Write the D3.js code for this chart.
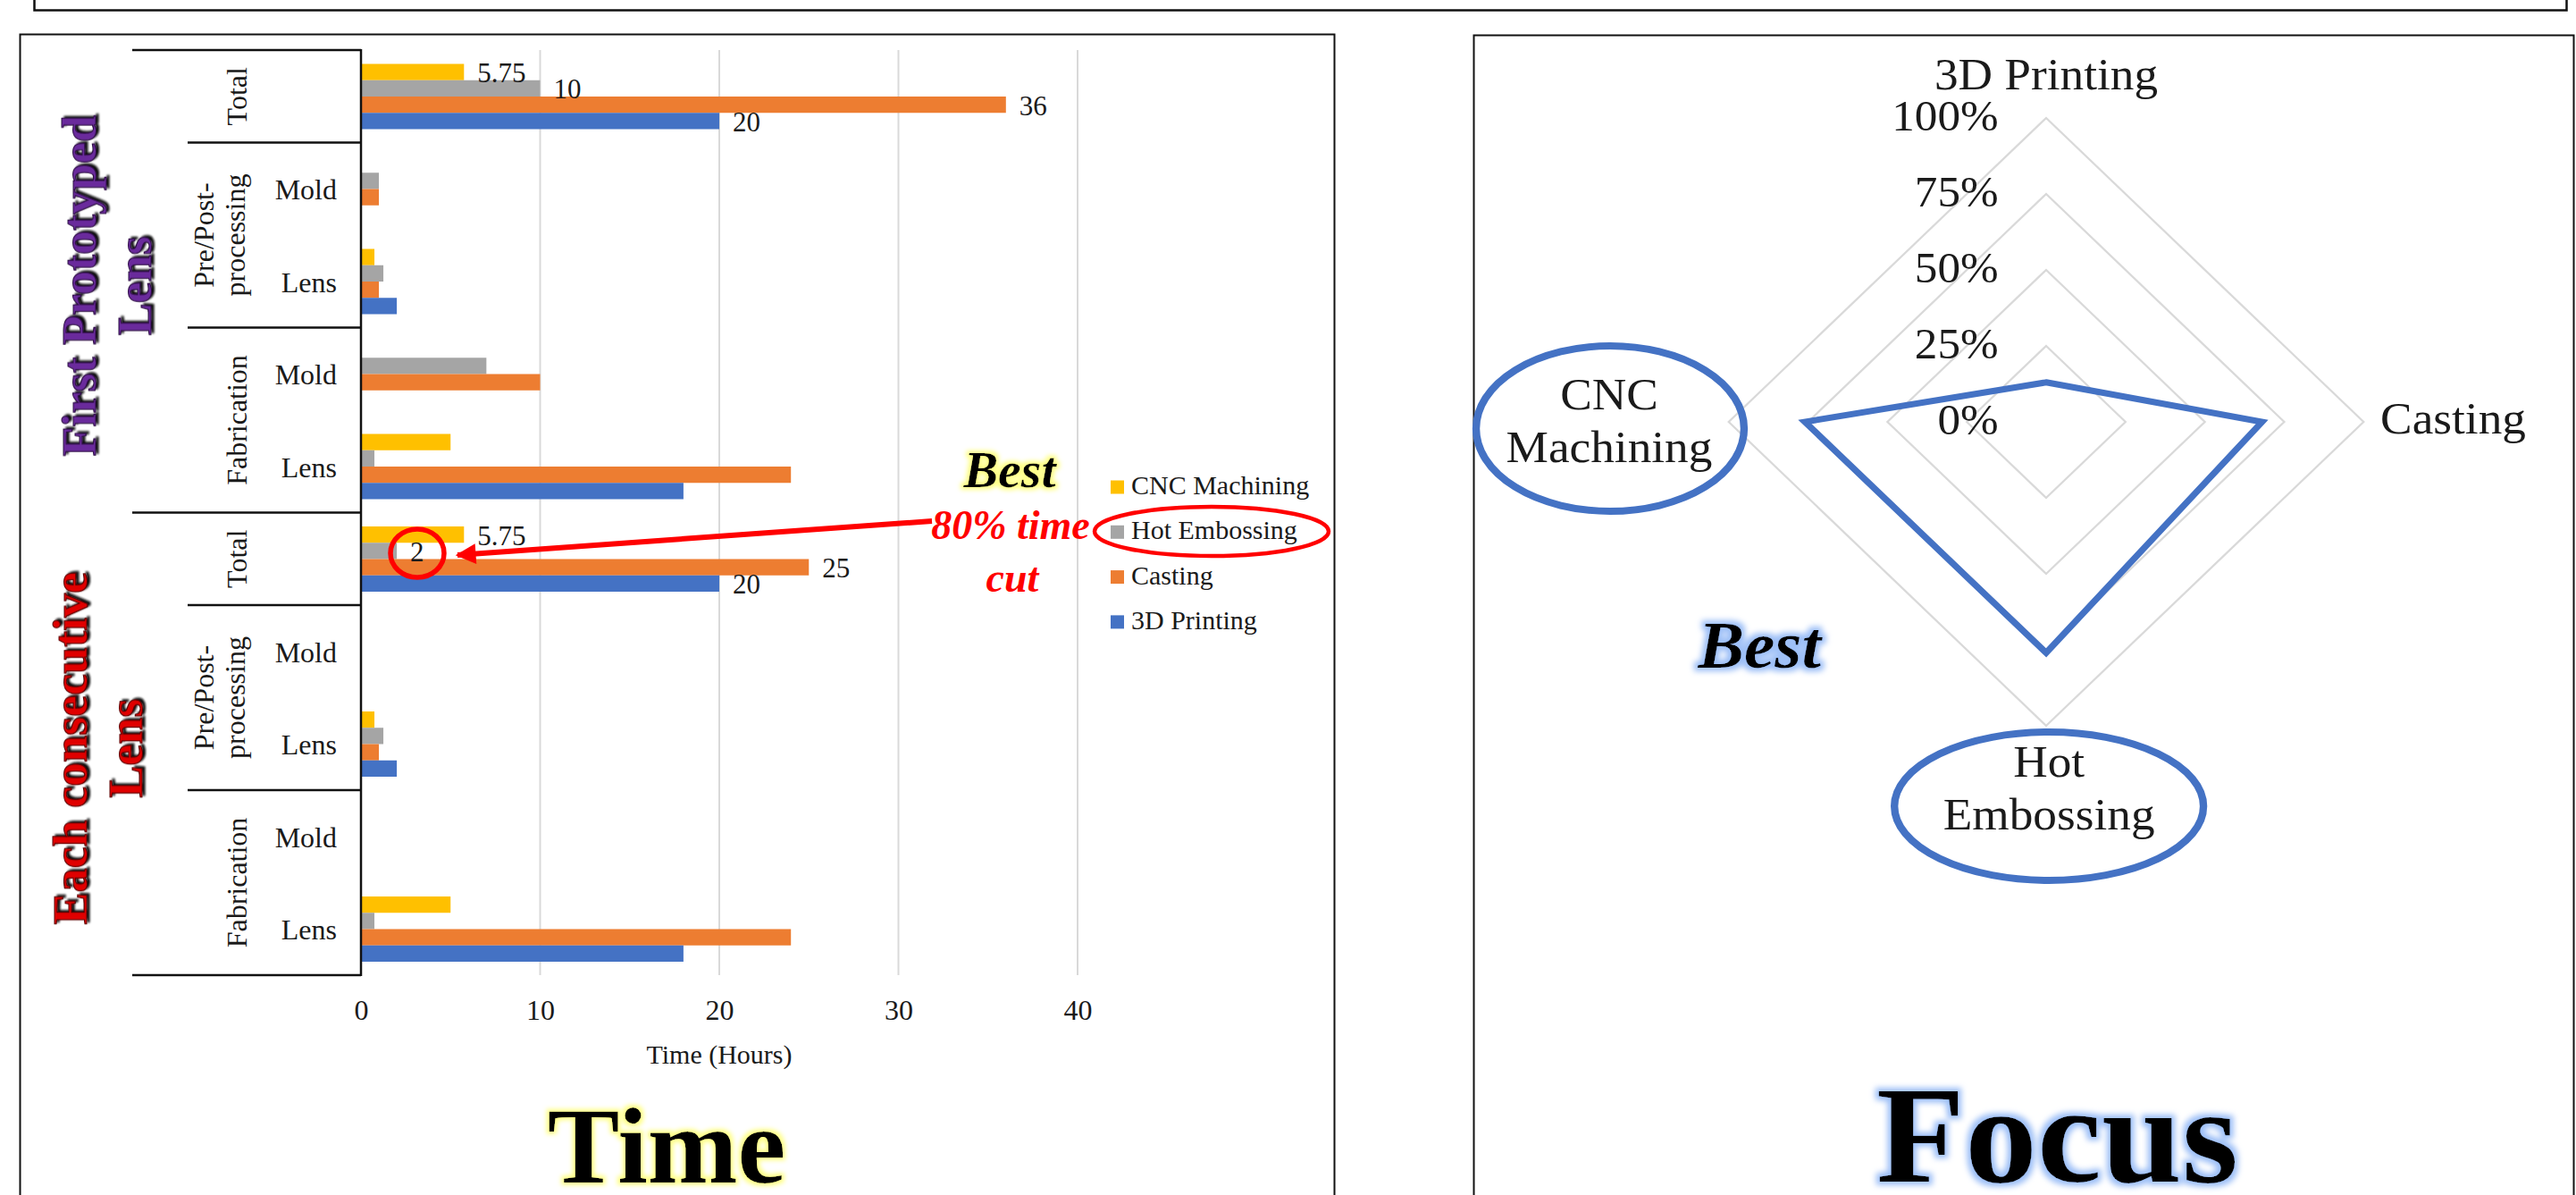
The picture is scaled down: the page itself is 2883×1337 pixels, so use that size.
<!DOCTYPE html>
<html>
<head>
<meta charset="utf-8">
<script src="https://cdnjs.cloudflare.com/ajax/libs/d3/7.8.5/d3.min.js"></script>
<style>
  html, body { margin: 0; padding: 0; background: #fff; }
  svg { display: block; }
  text { font-family: "Liberation Serif", "Times New Roman", serif; }
</style>
</head>
<body>
<svg id="chart" width="2883" height="1337"></svg>
<script>
// ---------------- DATA ----------------
// categories listed from top to bottom of the bar chart
const categories  = ["Total", "Mold", "Lens", "Mold", "Lens", "Total", "Mold", "Lens", "Mold", "Lens"];
const stageGroups = ["Total", "Pre/Post-processing", "Pre/Post-processing", "Fabrication", "Fabrication",
                     "Total", "Pre/Post-processing", "Pre/Post-processing", "Fabrication", "Fabrication"];
const lensGroups  = ["First Prototyped Lens", "First Prototyped Lens", "First Prototyped Lens", "First Prototyped Lens", "First Prototyped Lens",
                     "Each consecutive Lens", "Each consecutive Lens", "Each consecutive Lens", "Each consecutive Lens", "Each consecutive Lens"];

const seriesNames   = ["CNC Machining", "Hot Embossing", "Casting", "3D Printing"];
const cncMachining  = [5.75, 0, 0.75, 0, 5, 5.75, 0, 0.75, 0, 5];
const hotEmbossing  = [10, 1, 1.25, 7, 0.75, 2, 0, 1.25, 0, 0.75];
const casting       = [36, 1, 1, 10, 24, 25, 0, 1, 0, 24];
const printing3D    = [20, 0, 2, 0, 18, 20, 0, 2, 0, 18];
const xTicks        = [0, 10, 20, 30, 40];
const xAxisTitle    = "Time (Hours)";

const radarAxes     = ["3D Printing", "Casting", "Hot Embossing", "CNC Machining"];
const radarValues   = [0.13, 0.68, 0.76, 0.76];
const radarTicks    = [0, 0.25, 0.5, 0.75, 1];

// ---------------- STYLE ----------------
const seriesColors = { "CNC Machining": "#ffc000", "Hot Embossing": "#a5a5a5", "Casting": "#ed7d31", "3D Printing": "#4472c4" };
const seriesValues = { "CNC Machining": cncMachining, "Hot Embossing": hotEmbossing, "Casting": casting, "3D Printing": printing3D };
const lensColors   = { "First Prototyped Lens": "#6a2c9c", "Each consecutive Lens": "#e00000" };
const lensStroke   = { "First Prototyped Lens": "#2e0f45", "Each consecutive Lens": "#5a0000" };
const lensBaseX    = { "First Prototyped Lens": 107, "Each consecutive Lens": 97 };

const svg = d3.select("#chart");
const defs = svg.append("defs");

function glow(id, color, r, sd) {
  const f = defs.append("filter").attr("id", id)
    .attr("x", "-30%").attr("y", "-40%").attr("width", "160%").attr("height", "180%");
  f.append("feMorphology").attr("in", "SourceAlpha").attr("operator", "dilate").attr("radius", r).attr("result", "d");
  f.append("feGaussianBlur").attr("in", "d").attr("stdDeviation", sd).attr("result", "b");
  f.append("feFlood").attr("flood-color", color).attr("result", "c");
  f.append("feComposite").attr("in", "c").attr("in2", "b").attr("operator", "in").attr("result", "g");
  const m = f.append("feMerge");
  m.append("feMergeNode").attr("in", "g");
  m.append("feMergeNode").attr("in", "SourceGraphic");
}
glow("glowYellow", "#ffff8a", 3, 2.5);
glow("glowBlue", "#9ec0f7", 4, 3);
const sh = defs.append("filter").attr("id", "shadow").attr("x", "-20%").attr("y", "-30%").attr("width", "140%").attr("height", "160%");
sh.append("feDropShadow").attr("dx", 2).attr("dy", 3).attr("stdDeviation", 1.3).attr("flood-color", "#111").attr("flood-opacity", 1);

defs.append("marker").attr("id", "arrowHead")
  .attr("viewBox", "0 0 10 10").attr("refX", 9).attr("refY", 5)
  .attr("markerWidth", 4.2).attr("markerHeight", 3.8).attr("orient", "auto")
  .append("path").attr("d", "M0,0 L10,5 L0,10 z").attr("fill", "#ff0000");

// ---------------- FRAMES ----------------
svg.append("rect").attr("x", 38.5).attr("y", -20).attr("width", 2834).attr("height", 31.5)
  .attr("fill", "none").attr("stroke", "#111").attr("stroke-width", 2.5);
svg.append("rect").attr("x", 22.5).attr("y", 38.5).attr("width", 1471).attr("height", 1340)
  .attr("fill", "none").attr("stroke", "#111").attr("stroke-width", 2);
svg.append("rect").attr("x", 1649.5).attr("y", 39.5).attr("width", 1231).attr("height", 1340)
  .attr("fill", "none").attr("stroke", "#111").attr("stroke-width", 2);

// ---------------- BAR CHART ----------------
const x = d3.scaleLinear().domain([0, 40]).range([404, 1206]);
const y = d3.scaleBand().domain(d3.range(categories.length)).range([56, 1091]);
const ys = d3.scaleBand().domain(seriesNames).range([15.5, 88.5]);

const bar = svg.append("g");
// gridlines
bar.append("g").selectAll("line").data(xTicks.filter(t => t > 0)).join("line")
  .attr("x1", d => x(d)).attr("x2", d => x(d)).attr("y1", 56).attr("y2", 1091)
  .attr("stroke", "#d9d9d9").attr("stroke-width", 2);

// x axis tick labels via d3 axis
const xAxis = d3.axisBottom(x).tickValues(xTicks).tickSize(0).tickPadding(0);
const xg = bar.append("g").attr("transform", "translate(0,1118)").call(xAxis);
xg.select(".domain").remove();
xg.selectAll("text").attr("font-size", 32).attr("fill", "#1a1a1a")
  .attr("font-family", "Liberation Serif").attr("dy", "0.71em");

bar.append("text").attr("x", 805).attr("y", 1190).attr("text-anchor", "middle")
  .attr("font-size", 30).attr("fill", "#1a1a1a").text(xAxisTitle);

// bars
seriesNames.forEach(s => {
  bar.append("g").selectAll("rect").data(seriesValues[s]).join("rect")
    .attr("x", x(0))
    .attr("y", (d, i) => y(i) + ys(s))
    .attr("width", d => x(d) - x(0))
    .attr("height", ys.bandwidth())
    .attr("fill", seriesColors[s]);
});

// value labels on totals
seriesNames.forEach(s => {
  const vals = seriesValues[s];
  bar.append("g").selectAll("text")
    .data(vals.map((v, i) => ({ v, i })).filter(d => categories[d.i] === "Total"))
    .join("text")
    .attr("x", d => x(d.v) + 15)
    .attr("y", d => y(d.i) + ys(s) + ys.bandwidth() / 2 + 1)
    .attr("dominant-baseline", "central")
    .attr("font-size", 31).attr("fill", "#1a1a1a")
    .text(d => String(d.v));
});

// category axis line
bar.append("line").attr("x1", 404).attr("x2", 404).attr("y1", 55).attr("y2", 1092)
  .attr("stroke", "#111").attr("stroke-width", 2.5);

// group boundary lines
const boundaries = [];
for (let i = 0; i <= categories.length; i++) {
  if (i === 0 || i === categories.length || lensGroups[i] !== lensGroups[i - 1]) boundaries.push({ i, x1: 148 });
  else if (stageGroups[i] !== stageGroups[i - 1]) boundaries.push({ i, x1: 210 });
}
bar.append("g").selectAll("line").data(boundaries).join("line")
  .attr("x1", d => d.x1).attr("x2", 404)
  .attr("y1", d => d.i < categories.length ? y(d.i) : y(categories.length - 1) + y.bandwidth())
  .attr("y2", d => d.i < categories.length ? y(d.i) : y(categories.length - 1) + y.bandwidth())
  .attr("stroke", "#111").attr("stroke-width", 2.5);

// level-1 labels (Mold / Lens)
bar.append("g").selectAll("text")
  .data(categories.map((c, i) => ({ c, i })).filter(d => d.c !== stageGroups[d.i]))
  .join("text")
  .attr("x", 377).attr("y", d => y(d.i) + y.bandwidth() / 2 + 1)
  .attr("dominant-baseline", "central").attr("text-anchor", "end")
  .attr("font-size", 32).attr("fill", "#1a1a1a").text(d => d.c);

// spans helper
function spans(arr) {
  const out = [];
  arr.forEach((v, i) => {
    if (i > 0 && arr[i - 1] === v && (out[out.length - 1].lens === lensGroups[i])) out[out.length - 1].end = i;
    else out.push({ v, start: i, end: i, lens: lensGroups[i] });
  });
  return out;
}
const yCenter = sp => (y(sp.start) + y(sp.end) + y.bandwidth()) / 2;

// level-2 labels (rotated)
spans(stageGroups).forEach(sp => {
  const lines = sp.v.split(/(?<=-)/);
  const base = lines.length === 1 ? [276] : [239, 274];
  const t = bar.append("text").attr("transform", `translate(0,${yCenter(sp)}) rotate(-90)`)
    .attr("text-anchor", "middle").attr("font-size", 32).attr("fill", "#1a1a1a");
  lines.forEach((ln, k) => t.append("tspan").attr("x", 0).attr("y", base[k]).text(ln));
});

// level-3 labels (big rotated)
spans(lensGroups).forEach(sp => {
  const cut = sp.v.lastIndexOf(" ");
  const lines = [sp.v.slice(0, cut), sp.v.slice(cut + 1)];
  const bx = lensBaseX[sp.v];
  const t = bar.append("text").attr("transform", `translate(0,${yCenter(sp) + 5}) rotate(-90)`)
    .attr("text-anchor", "middle").attr("font-size", 54).attr("font-weight", "bold")
    .attr("fill", lensColors[sp.v]).attr("stroke", lensStroke[sp.v]).attr("stroke-width", 1.2)
    .attr("filter", "url(#shadow)");
  lines.forEach((ln, k) => t.append("tspan").attr("x", 0).attr("y", bx + k * 62).text(ln));
});

// legend
const lg = bar.append("g");
seriesNames.forEach((s, k) => {
  const cy = 545 + k * 50.3;
  lg.append("rect").attr("x", 1243).attr("y", cy - 7.5).attr("width", 15).attr("height", 15).attr("fill", seriesColors[s]);
  lg.append("text").attr("x", 1266).attr("y", cy + 8).attr("font-size", 30).attr("fill", "#1a1a1a").text(s);
});

// annotations on bar chart
bar.append("ellipse").attr("cx", 1356).attr("cy", 594.5).attr("rx", 131).attr("ry", 27.5)
  .attr("fill", "none").attr("stroke", "#ff0000").attr("stroke-width", 4.5);
bar.append("ellipse").attr("cx", 467).attr("cy", 619).attr("rx", 30).attr("ry", 27)
  .attr("fill", "none").attr("stroke", "#ff0000").attr("stroke-width", 5.5);
bar.append("line").attr("x1", 1043).attr("y1", 583).attr("x2", 512).attr("y2", 621)
  .attr("stroke", "#ff0000").attr("stroke-width", 6).attr("marker-end", "url(#arrowHead)");
bar.append("text").attr("x", 1130).attr("y", 545).attr("text-anchor", "middle")
  .attr("font-size", 58).attr("font-weight", "bold").attr("font-style", "italic")
  .attr("fill", "#000").attr("filter", "url(#glowYellow)").text("Best");
bar.append("text").attr("x", 1131).attr("y", 603).attr("text-anchor", "middle")
  .attr("font-size", 46).attr("font-weight", "bold").attr("font-style", "italic")
  .attr("fill", "#ff0000").text("80% time");
bar.append("text").attr("x", 1133).attr("y", 662).attr("text-anchor", "middle")
  .attr("font-size", 46).attr("font-weight", "bold").attr("font-style", "italic")
  .attr("fill", "#ff0000").text("cut");
bar.append("text").attr("x", 746).attr("y", 1323).attr("text-anchor", "middle")
  .attr("font-size", 121).attr("font-weight", "bold")
  .attr("fill", "#000").attr("filter", "url(#glowYellow)").text("Time");

// ---------------- RADAR CHART ----------------
const rg = svg.append("g").attr("transform", "translate(2290,472) scale(1.045,1)");
const r = d3.scaleLinear().domain([0, 1]).range([0, 340]);
const ang = i => i * 2 * Math.PI / radarAxes.length;
const pt = (i, v) => [r(v) * Math.sin(ang(i)), -r(v) * Math.cos(ang(i))];
const lineGen = d3.line().curve(d3.curveLinearClosed);

rg.append("g").selectAll("path").data(radarTicks.filter(t => t > 0)).join("path")
  .attr("d", t => lineGen(radarAxes.map((a, i) => pt(i, t))))
  .attr("fill", "none").attr("stroke", "#d9d9d9").attr("stroke-width", 2.2);

rg.append("g").selectAll("text").data(radarTicks).join("text")
  .attr("x", -51).attr("y", t => -r(t) + 14)
  .attr("text-anchor", "end").attr("font-size", 49).attr("fill", "#1a1a1a")
  .text(d3.format(".0%"));

rg.append("path").attr("d", lineGen(radarValues.map((v, i) => pt(i, v))))
  .attr("fill", "none").attr("stroke", "#4472c4").attr("stroke-width", 7).attr("stroke-linejoin", "miter");

// axis labels
const axisLabelPos = [
  { x: 0, y: [-372], anchor: "middle", lines: ["3D Printing"] },
  { x: 358, y: [13], anchor: "start", lines: ["Casting"] },
  { x: 3, y: [397, 456], anchor: "middle", lines: ["Hot", "Embossing"] },
  { x: -468, y: [-14, 45], anchor: "middle", lines: ["CNC", "Machining"] }
];
radarAxes.forEach((a, i) => {
  const p = axisLabelPos[i];
  const t = rg.append("text").attr("text-anchor", p.anchor).attr("font-size", 51).attr("fill", "#1a1a1a");
  const words = a.split(" ");
  const lines = p.y.length === 1 ? [a] : [words[0], words.slice(1).join(" ")];
  lines.forEach((ln, k) => t.append("tspan").attr("x", p.x).attr("y", p.y[k]).text(ln));
});

// annotation ellipses
rg.append("ellipse").attr("cx", -467).attr("cy", 7.5).attr("rx", 143.5).attr("ry", 92.5)
  .attr("fill", "none").attr("stroke", "#4472c4").attr("stroke-width", 8);
rg.append("ellipse").attr("cx", 3).attr("cy", 430).attr("rx", 165.5).attr("ry", 83)
  .attr("fill", "none").attr("stroke", "#4472c4").attr("stroke-width", 8);

rg.append("text").attr("x", -307).attr("y", 275).attr("text-anchor", "middle")
  .attr("font-size", 74).attr("font-weight", "bold").attr("font-style", "italic")
  .attr("fill", "#000").attr("filter", "url(#glowBlue)").text("Best");
rg.append("text").attr("x", 12).attr("y", 850).attr("text-anchor", "middle")
  .attr("font-size", 155).attr("font-weight", "bold")
  .attr("fill", "#000").attr("filter", "url(#glowBlue)").text("Focus");
</script>
</body>
</html>
